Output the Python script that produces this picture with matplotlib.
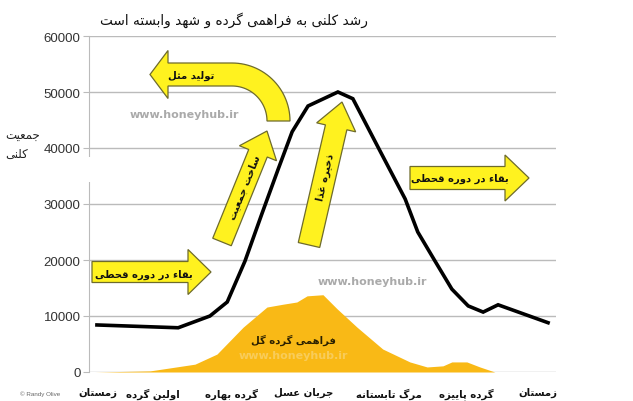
import numpy as np
import matplotlib
matplotlib.use("Agg")
import matplotlib.pyplot as plt
from matplotlib.patches import Polygon, Rectangle

# --- minimal Persian shaping (no arabic_reshaper / bidi available) ---
DUAL = {'ب': 0xFE8F, 'ت': 0xFE95, 'ث': 0xFE99, 'ج': 0xFE9D, 'ح': 0xFEA1, 'خ': 0xFEA5,
        'س': 0xFEB1, 'ش': 0xFEB5, 'ص': 0xFEB9, 'ض': 0xFEBD, 'ط': 0xFEC1, 'ظ': 0xFEC5,
        'ع': 0xFEC9, 'غ': 0xFECD, 'ف': 0xFED1, 'ق': 0xFED5, 'ل': 0xFEDD, 'م': 0xFEE1,
        'ن': 0xFEE5, 'ه': 0xFEE9, 'ی': 0xFBFC, 'ک': 0xFB8E, 'گ': 0xFB92, 'پ': 0xFB56,
        'چ': 0xFB7A}
RIGHT = {'ا': 0xFE8D, 'د': 0xFEA9, 'ذ': 0xFEAB, 'ر': 0xFEAD, 'ز': 0xFEAF, 'و': 0xFEED,
         'ژ': 0xFB8A}
NOJOIN = {'ء': 0xFE80}

def fa(s):
    out = []
    for i, ch in enumerate(s):
        if ch in DUAL or ch in RIGHT:
            prev = s[i-1] if i > 0 else ''
            nxt = s[i+1] if i + 1 < len(s) else ''
            jp = prev in DUAL
            jn = ch in DUAL and (nxt in DUAL or nxt in RIGHT)
            base = DUAL.get(ch, RIGHT.get(ch))
            out.append(chr(base + (3 if jp and jn else 1 if jp else 2 if jn else 0)))
        elif ch in NOJOIN:
            out.append(chr(NOJOIN[ch]))
        else:
            out.append(ch)
    return ''.join(reversed(out))

# --- data (x: 0..100 along the bee year) ---
colony_x = [1.7, 19.1, 25.9, 29.6, 33.4, 37.0, 40.5, 43.5, 46.9, 53.3, 56.5,
            62.3, 67.7, 70.4, 74.1, 77.7, 81.2, 84.4, 87.6, 98.3]
colony_y = [8400, 7900, 10000, 12500, 19800, 28200, 36200, 42900, 47500, 50000, 48800,
            39500, 30900, 25000, 19800, 14800, 11800, 10700, 12000, 8800]

pollen_x = [1.3, 13.1, 22.7, 27.4, 33.0, 38.1, 41.5, 44.5, 46.7, 50.1, 53.1, 57.4,
            62.9, 68.7, 72.4, 75.8, 77.7, 80.9, 83.7, 86.9]
pollen_y = [0, 200, 1400, 3200, 8000, 11600, 12100, 12500, 13600, 13800, 11300, 8000,
            4100, 1800, 900, 1100, 1800, 1800, 900, 0]

season_pos = [1.9, 13.7, 30.6, 46.0, 64.2, 80.7, 96.1]
season_labels = ["زمستان", "اولین گرده", "گرده بهاره", "جریان عسل",
                 "مرگ تابستانه", "گرده پاییزه", "زمستان"]
y_ticks = [0, 10000, 20000, 30000, 40000, 50000, 60000]

YELLOW = "#FFF21F"; EDGE = "#6E6B2C"; ORANGE = "#F9B916"

fig = plt.figure(figsize=(6.33, 4.02), dpi=100)
ax = fig.add_axes([89/633, 29/402, 467/633, 336/402])
ax.fill_between(pollen_x, pollen_y, 0, color=ORANGE, lw=0, zorder=2)
ax.plot(colony_x, colony_y, color="black", lw=2.6, solid_joinstyle="miter", zorder=3)
ax.set_xlim(0, 100); ax.set_ylim(0, 60000)
ax.set_yticks(y_ticks)
ax.set_yticklabels([str(v) for v in y_ticks], fontfamily="Liberation Sans", fontsize=9.5, color="#333333")
ax.tick_params(axis="y", length=4, color="#BBBBBB", pad=2)
ax.set_xticks(season_pos)
ax.set_xticklabels([fa(s) for s in season_labels], fontfamily="DejaVu Sans",
                   fontweight="bold", fontsize=7.3, color="#111111")
ax.tick_params(axis="x", length=0, pad=11)
ax.grid(axis="y", color="#BBBBBB", lw=1, zorder=1)
for s in ("top", "right", "bottom"):
    ax.spines[s].set_visible(False)
ax.spines["left"].set_color("#BBBBBB")
ax.set_axisbelow(True)

# --- overlay in pixel coordinates for the annotations ---
ov = fig.add_axes([0, 0, 1, 1], zorder=5)
ov.set_xlim(0, 633); ov.set_ylim(402, 0); ov.set_axis_off()

def straight_arrow(x0, y0, x1, y1, body, head, headlen):
    d = np.array([x1 - x0, y1 - y0], float); L = np.hypot(*d); u = d / L
    n = np.array([-u[1], u[0]]); p0 = np.array([x0, y0]); hb = p0 + u * (L - headlen)
    pts = [p0 + n*body/2, hb + n*body/2, hb + n*head/2, p0 + u*L,
           hb - n*head/2, hb - n*body/2, p0 - n*body/2]
    ov.add_patch(Polygon(pts, closed=True, fc=YELLOW, ec=EDGE, lw=0.9))

straight_arrow(92, 273, 211, 273, 21, 45, 23)
straight_arrow(410, 179, 529, 179, 23, 46, 24)
straight_arrow(222, 243, 267, 132, 20, 40, 24)
straight_arrow(309, 246, 342, 103, 22, 40, 26)

# curved "reproduction" arrow
cx, cy, r_out, r_in = 232, 122, 58, 35
th = np.linspace(0, np.pi/2, 30)
outer = [(cx + r_out*np.cos(t), cy - r_out*np.sin(t)) for t in th]
inner = [(cx + r_in*np.cos(t), cy - r_in*np.sin(t)) for t in th[::-1]]
rm = (r_out + r_in) / 2
pts = outer + [(168, cy - r_out), (168, cy - rm - 24), (150, cy - rm), (168, cy - rm + 24),
               (168, cy - r_in)] + [(cx, cy - r_in)] + inner
ov.add_patch(Polygon(pts, closed=True, fc=YELLOW, ec=EDGE, lw=0.9))

# hide piece of y axis as in the original picture
ov.add_patch(Rectangle((84, 158), 10, 25, fc="white", ec="none"))

tb = dict(fontfamily="DejaVu Sans", fontweight="bold", fontsize=7.2, color="#111111",
          ha="center", va="center")
ov.text(144, 275, fa("بقاء در دوره قحطی"), **tb)
ov.text(460, 179, fa("بقاء در دوره قحطی"), **tb)
ov.text(191, 76, fa("تولید مثل"), **tb)
ov.text(244, 187, fa("ساخت جمعیت"), rotation=68, **tb)
ov.text(325, 177, fa("ذخیره غذا"), rotation=77, **tb)
ov.text(293, 340, fa("فراهمی گرده گل"), **{**tb, "color": "#2A2000"})

wm = dict(fontfamily="DejaVu Sans", fontweight="bold", fontsize=8, ha="center", va="center")
ov.text(184, 115, "www.honeyhub.ir", color="#AAAAAA", **wm)
ov.text(372, 282, "www.honeyhub.ir", color="#AAAAAA", **wm)
ov.text(293, 356, "www.honeyhub.ir", color="#F8CC5A", **wm)

ov.text(100, 20, fa("رشد کلنی به فراهمی گرده و شهد وابسته است"), fontfamily="DejaVu Sans",
        fontsize=9.8, color="#111111", ha="left", va="center")
ov.text(5, 136, fa("جمعیت"), fontfamily="DejaVu Sans", fontsize=8.5, color="#222222", ha="left", va="center")
ov.text(5, 154, fa("کلنی"), fontfamily="DejaVu Sans", fontsize=8.5, color="#222222", ha="left", va="center")
ov.text(20, 394, "© Randy Olive", fontfamily="Liberation Sans", fontsize=4.5, color="#666666",
        ha="left", va="center")

fig.savefig("out.png", dpi=100)
